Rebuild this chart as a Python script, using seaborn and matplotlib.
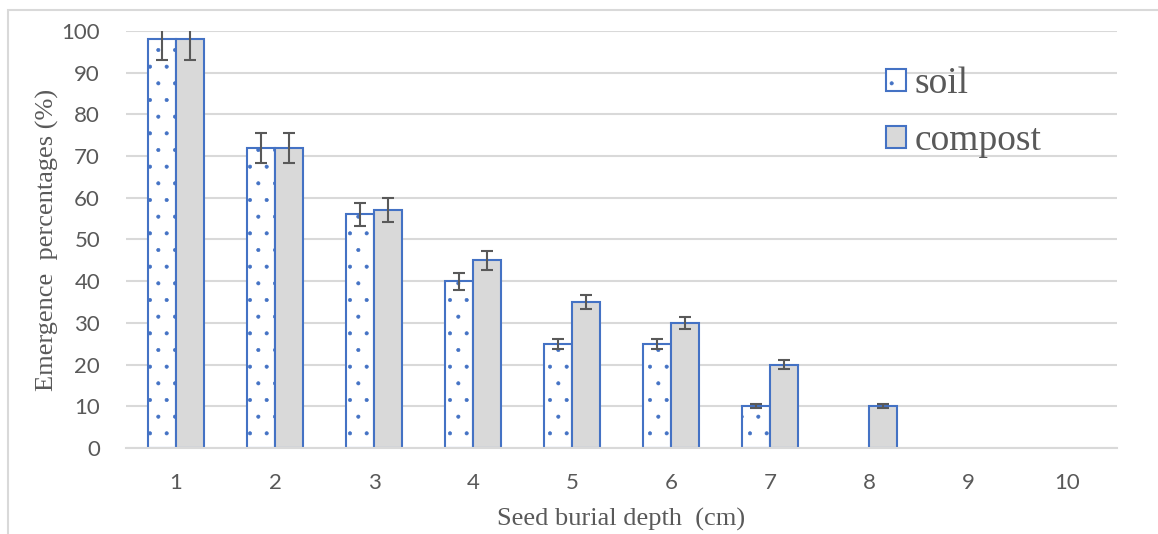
import numpy as np
import pandas as pd
import matplotlib
matplotlib.use("Agg")
import matplotlib.pyplot as plt
import matplotlib.patches as mpatches
import seaborn as sns

# data
depths = ["1", "2", "3", "4", "5", "6", "7", "8", "9", "10"]
soil = [98, 72, 56, 40, 25, 25, 10, 0, 0, 0]
compost = [98, 72, 57, 45, 35, 30, 20, 10, 0, 0]
soil_err = [4.9, 3.6, 2.8, 2.0, 1.25, 1.25, 0.5, 0, 0, 0]
compost_err = [4.9, 3.6, 2.85, 2.25, 1.75, 1.5, 1.0, 0.5, 0, 0]
yticks = [0, 10, 20, 30, 40, 50, 60, 70, 80, 90, 100]

df = pd.DataFrame({
    "depth": depths * 2,
    "value": soil + compost,
    "medium": ["soil"] * len(depths) + ["compost"] * len(depths),
})

sns.set_theme(style="white")
plt.rcParams["hatch.linewidth"] = 0.45

fig = plt.figure(figsize=(11.58, 5.34), dpi=100)
ax = fig.add_axes([0.1092, 0.161, 0.855, 0.781])

edge = "#4472C4"
sns.barplot(data=df, x="depth", y="value", hue="medium", order=depths,
            hue_order=["soil", "compost"], palette=["white", "#D9D9D9"],
            width=0.56, edgecolor=edge, linewidth=1.5, saturation=1,
            legend=False, ax=ax)

soil_bars, compost_bars = ax.containers[0], ax.containers[1]
for p in soil_bars:
    p.set_hatch(".")
    p.set_edgecolor(edge)

# error bars at each bar centre, skip empty bars
for bars, errs in [(soil_bars, soil_err), (compost_bars, compost_err)]:
    for p, e in zip(bars, errs):
        if p.get_height() == 0:
            p.set_visible(False)
            continue
        xc = p.get_x() + p.get_width() / 2
        ax.errorbar(xc, p.get_height(), yerr=e, fmt="none", ecolor="#595959",
                    elinewidth=1.5, capsize=4, capthick=1.5, zorder=5)

ax.set_xlim(-0.5, len(depths) - 0.5)
ax.set_ylim(0, 100)
ax.set_yticks(yticks)
ax.yaxis.grid(True, color="#D9D9D9", linewidth=1.5)
ax.set_axisbelow(True)
for s in ["top", "right", "left"]:
    ax.spines[s].set_visible(False)
ax.spines["bottom"].set_color("#D9D9D9")
ax.spines["bottom"].set_linewidth(1.5)
ax.tick_params(axis="both", length=0, labelsize=16, labelcolor="#595959")
ax.tick_params(axis="y", pad=19)
ax.tick_params(axis="x", pad=18)
for t in ax.get_xticklabels() + ax.get_yticklabels():
    t.set_fontfamily("Lato")

ax.set_xlabel("Seed burial depth  (cm)", family="Liberation Serif",
              fontsize=19, color="#595959", labelpad=11)
ax.set_ylabel("Emergence  percentages (%)", family="Liberation Serif",
              fontsize=19, color="#595959", labelpad=2)

leg = ax.legend([soil_bars[0], compost_bars[0]], ["soil", "compost"],
                loc="upper left", bbox_to_anchor=(867 / 1158, 1 - 48 / 534),
                bbox_transform=fig.transFigure, frameon=False, borderpad=0,
                handlelength=0.53, handleheight=0.53, handletextpad=0.24,
                labelspacing=0.6, prop={"family": "Liberation Serif", "size": 27})
for t in leg.get_texts():
    t.set_color("#595959")

# outer chart frame (cut off at right and bottom)
fig.add_artist(mpatches.Rectangle((8 / 1158, -0.5), 2, 0.5 + 1 - 10 / 534,
                                  transform=fig.transFigure, fill=False,
                                  edgecolor="#D9D9D9", linewidth=1.5))

fig.savefig("out.png", dpi=100)
